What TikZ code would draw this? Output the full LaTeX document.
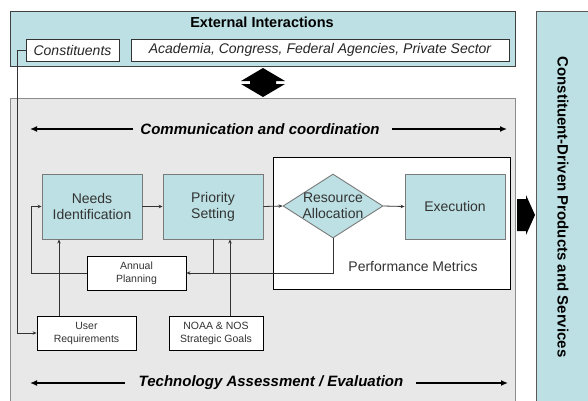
\documentclass[tikz,border=0pt]{standalone}
\usepackage{fontspec}
\setmainfont{Liberation Sans}
\usetikzlibrary{arrows.meta,shapes.geometric,calc}
\definecolor{teal1}{HTML}{BCE0E3}
\definecolor{bg1}{HTML}{E8E8E8}
\definecolor{ln1}{HTML}{333333}
\definecolor{bd1}{HTML}{7A7A7A}
\tikzset{
  tealbox/.style={draw=bd1, fill=teal1, line width=0.9pt, inner sep=0pt, align=center, text=ln1,
    font=\fontsize{14}{16}\selectfont},
  whitebox/.style={draw=black, fill=white, line width=0.8pt, inner sep=0pt, align=center, text=ln1,
    font=\fontsize{10.5}{13}\selectfont},
  italbox/.style={draw=black!80, fill=white, line width=0.8pt, inner sep=0pt, text=black!85,
    font=\fontsize{14}{16}\selectfont\itshape},
  conn/.style={draw=ln1, line width=0.8pt, -{Stealth[length=4pt,width=3.5pt]}},
  plainconn/.style={draw=ln1, line width=0.8pt},
  bigarrow/.style={draw=black, line width=1.8pt, -{Latex[length=7pt,width=6pt]}},
  bannertext/.style={font=\fontsize{15}{17}\selectfont\bfseries\itshape, inner sep=0pt}
}
\begin{document}
\begin{tikzpicture}[x=1pt,y=-1pt]
\useasboundingbox (0,0) rectangle (588,400);
\clip (0,0) rectangle (588,400);
\fill[white] (0,0) rectangle (588,400);

% external interactions
\draw[draw=black!75, fill=teal1, line width=0.9pt] (10,11) rectangle (515,66);
\node[font=\fontsize{14.5}{16}\selectfont\bfseries, inner sep=0pt] (ext) at (262,22) {External Interactions};
\node[italbox, minimum width=93pt, minimum height=22pt] (cons) at (72.5,50) {Constituents};
\node[italbox, minimum width=378pt, minimum height=22pt] (acad) at (320,50) {Academia, Congress, Federal Agencies, Private Sector};

% gray panel
\draw[draw=black!45, fill=bg1, line width=0.9pt] (10,98) rectangle (515,405);

% right column
\draw[draw=black!65, fill=teal1, line width=0.9pt] (536,11) rectangle (595,405);
\node[rotate=-90, font=\fontsize{15}{17}\selectfont\bfseries, inner sep=0pt] (cdps) at (563,207) {Constituent-Driven Products and Services};

% double arrow
\fill[black] (263,68) -- (285,81) -- (276,81) -- (276,84) -- (285,84) -- (263,97)
  -- (241,84) -- (250,84) -- (250,81) -- (241,81) -- cycle;

% big right arrow
\fill[black] (517,199) -- (526,199) -- (526,195) -- (535,215) -- (526,235) -- (526,231) -- (517,231) -- cycle;

% banners
\node[bannertext] (comm) at (260,129) {Communication and coordination};
\coordinate (cl) at (30,129);
\coordinate (cr) at (507,129);
\draw[bigarrow] ([xshift=-7pt]comm.west) -- (cl);
\draw[bigarrow] ([xshift=12pt]comm.east) -- (cr);

\node[bannertext] (tech) at (271,383) {Technology Assessment / Evaluation};
\coordinate (tl) at (30,383);
\coordinate (tr) at (508,383);
\draw[bigarrow] ([xshift=-14pt]tech.west) -- (tl);
\draw[bigarrow] ([xshift=13pt]tech.east) -- (tr);

% performance panel
\node[draw=black, fill=white, line width=0.9pt, minimum width=237pt, minimum height=132pt, inner sep=0pt] (perf) at (391.5,223) {};
\node[font=\fontsize{14}{16}\selectfont, text=ln1, inner sep=0pt] (pm) at (413,266) {Performance Metrics};

% process boxes
\node[tealbox, minimum width=100pt, minimum height=65pt] (needs) at (92,206.5) {Needs\\Identification};
\node[tealbox, minimum width=100pt, minimum height=65pt] (prio) at (213,206.5) {Priority\\Setting};
\node[draw=bd1, fill=teal1, line width=0.9pt, diamond, minimum width=100pt, minimum height=64pt, inner sep=0pt] (ra) at (333,206) {};
\node[font=\fontsize{14}{16}\selectfont, text=ln1, align=center, inner sep=0pt] (ratext) at (333,206) {Resource\\Allocation};
\node[tealbox, minimum width=100pt, minimum height=65pt] (exec) at (455,206.5) {Execution};

\node[whitebox, minimum width=99pt, minimum height=34pt] (ap) at (136.5,273) {Annual\\Planning};
\node[whitebox, minimum width=99pt, minimum height=34pt] (ur) at (86.5,333) {User\\Requirements};
\node[whitebox, minimum width=94pt, minimum height=34pt] (noaa) at (216,333) {NOAA \& NOS\\Strategic Goals};

% connectors
\coordinate (cx) at (17,0);
\coordinate (lx) at (31,0);
\coordinate (ux) at (59,0);
\coordinate (nx) at (230,0);

\draw[conn] (cons.west) -- (cx |- cons.west) |- (ur.west);
\draw[conn] (needs.east) -- (prio.west);
\draw[conn] (prio.east) -- (ra.west);
\draw[conn] (ra.east) -- (exec.west);
\draw[conn] (ra.south) |- (ap.east);
\draw[plainconn] (prio.south) -- (prio.south |- ap.east);
\draw[conn] (nx |- noaa.north) -- (nx |- prio.south);
\draw[conn] (ux |- ur.north) -- (ux |- needs.south);
\draw[conn] (ap.west) -- (lx |- ap.west) |- (needs.west);
\end{tikzpicture}
\end{document}
